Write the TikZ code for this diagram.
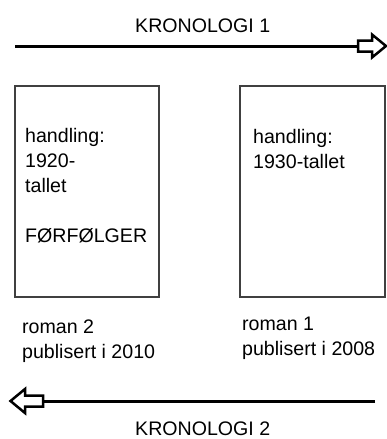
\documentclass[tikz,border=0pt]{standalone}
\usepackage{fontspec}
\setmainfont{Liberation Sans}
\begin{document}
\begin{tikzpicture}[x=1pt,y=-1pt,
  lbl/.style={inner sep=0pt,anchor=base west,align=left,font=\fontsize{19.6}{25}\selectfont},
  bookbox/.style={draw=black!75,line width=1.1pt,minimum width=#1,minimum height=211pt,inner sep=0pt},
  shaft/.style={line width=3pt,line cap=butt},
  hollowhead/.style={draw,line width=2.5pt,fill=white,line join=miter}]
\useasboundingbox (0,0) rectangle (387,439);
% title labels
\node[lbl] (k1) at (135,32) {KRONOLOGI 1};
\node[lbl] (k2) at (135,435) {KRONOLOGI 2};
% boxes
\node[bookbox=144pt] (b2) at (87,191.5) {};
\node[bookbox=145pt] (b1) at (312.5,191.5) {};
% box texts (anchor = baseline of last line)
\node[lbl] (t2) at (25,242) {handling:\\1920-\\tallet\\[25pt]FØRFØLGER};
\node[lbl] (t1) at (253,168) {handling:\\1930-tallet};
% captions
\node[lbl] (c2) at (22,358) {roman 2\\publisert i 2010};
\node[lbl] (c1) at (242,355) {roman 1\\publisert i 2008};
% top arrow
\coordinate (a1s) at (15,46);
\coordinate (a1e) at (358,46);
\draw[shaft] (a1s) -- (a1e);
\draw[hollowhead] (a1e) ++(0,-5.5) -- ++(14,0) -- ++(0,-6) -- (386,46) -- (372,57.5) -- (372,51.5) -- (358,51.5) -- cycle;
% bottom arrow
\coordinate (a2s) at (375,401);
\coordinate (a2e) at (43,401);
\draw[shaft] (a2s) -- (a2e);
\draw[hollowhead] (a2e) ++(0,-5.5) -- (25,395.5) -- (25,389) -- (10.5,401) -- (25,413) -- (25,406.5) -- (43,406.5) -- cycle;
\end{tikzpicture}
\end{document}
